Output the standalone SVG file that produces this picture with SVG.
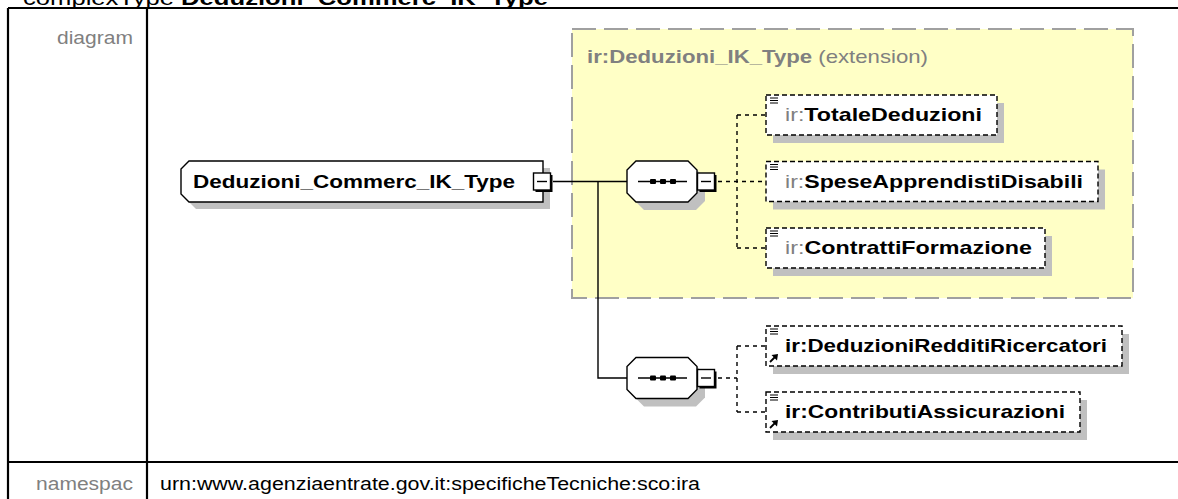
<svg xmlns="http://www.w3.org/2000/svg" xmlns:xlink="http://www.w3.org/1999/xlink" width="1178" height="499" viewBox="0 0 1178 499">
<style>
text{font-family:"Liberation Sans",Arial,sans-serif}
.lab{font-size:17.5px;fill:#808080}
.val{font-size:17.5px;fill:#000}
.el{font-size:19px;font-weight:bold;fill:#000}
.pre{fill:#808080;font-weight:normal}
.ttl{font-size:19px;fill:#808080}
.box{fill:#fff;stroke:#000;stroke-width:1.4;stroke-dasharray:5 3}
.sh{fill:#c0c0c0}
.conn{fill:none;stroke:#000;stroke-width:1.4}
.dconn{fill:none;stroke:#000;stroke-width:1.4;stroke-dasharray:4 4}
.tbl{fill:none;stroke:#000;stroke-width:2.2}
.icon{fill:none;stroke:#000;stroke-width:1.2}
</style>
<defs>
<g id="minus">
<rect x="2.5" y="2.5" width="17" height="17" fill="#000"/>
<rect x="0.5" y="0.5" width="17" height="17" fill="#fff" stroke="#000" stroke-width="1.4"/>
<path d="M4,9 H14" stroke="#000" stroke-width="1.4"/>
</g>
<g id="seq">
<path class="sh" d="M17,8 H69 L78,17 V40 L69,49 H17 L8,40 V17 Z"/>
<path d="M9,0 H61 L70,9 V32 L61,41 H9 L0,32 V9 Z" fill="#fff" stroke="#000" stroke-width="1.4"/>
<path d="M11,20.5 H60" stroke="#000" stroke-width="1.4"/>
<rect x="23" y="18" width="6" height="5" rx="1" fill="#000"/>
<rect x="33" y="18" width="6" height="5" rx="1" fill="#000"/>
<rect x="43" y="18" width="6" height="5" rx="1" fill="#000"/>
<use xlink:href="#minus" x="70" y="11.5"/>
</g>
<g id="lst">
<path class="icon" d="M4,3 H12 M4,5.5 H12 M4,8 H12"/>
</g>
<g id="ref">
<path d="M4,-4 L9,-9" stroke="#000" stroke-width="1.8"/>
<polygon points="12,-12 5.5,-11 11,-5.5" fill="#000"/>
</g>
</defs>

<text x="23" y="5" font-size="21" textLength="525" lengthAdjust="spacingAndGlyphs">complexType <tspan font-weight="bold">Deduzioni_Commerc_IK_Type</tspan></text>

<g id="table">
<path class="tbl" d="M8,8 H1178 M8,8 V499 M147,8 V499 M8,462 H1178"/>
<text class="lab" x="57" y="44" textLength="76" lengthAdjust="spacingAndGlyphs">diagram</text>
<text class="lab" x="36" y="490" textLength="97" lengthAdjust="spacingAndGlyphs">namespac</text>
<text class="val" x="160" y="490" textLength="540" lengthAdjust="spacingAndGlyphs">urn:www.agenziaentrate.gov.it:specificheTecniche:sco:ira</text>
</g>

<g id="extension">
<rect x="572" y="29" width="561" height="269" fill="#ffffc6" stroke="#a0a0a0" stroke-width="2" stroke-dasharray="24 8"/>
<text class="ttl" x="587" y="63" textLength="341" lengthAdjust="spacingAndGlyphs"><tspan font-weight="bold">ir:Deduzioni_IK_Type</tspan> (extension)</text>
</g>

<g id="connectors">
<path class="conn" d="M553,181.5 H627 M598,181.5 V378 H627"/>
<path class="dconn" d="M718,181.5 H766 M737,115 V248 M737,115 H766 M737,248 H766"/>
<path class="dconn" d="M718,378 H737 M737,346 V412 M737,346 H766 M737,412 H766"/>
</g>

<g id="Deduzioni_Commerc_IK_Type">
<path class="sh" d="M196,168 H550 V209 H196 L188,201 V176 Z"/>
<path d="M189,161 H543 V202 H189 L181,194 V169 Z" fill="#fff" stroke="#000" stroke-width="1.4"/>
<text class="el" x="193" y="188" textLength="322" lengthAdjust="spacingAndGlyphs">Deduzioni_Commerc_IK_Type</text>
<use xlink:href="#minus" x="533" y="172.5"/>
</g>

<g id="sequence1">
<use xlink:href="#seq" x="627" y="161"/>
</g>

<g id="sequence2">
<use xlink:href="#seq" x="627" y="357.5"/>
</g>

<g id="TotaleDeduzioni">
<rect class="sh" x="773" y="103" width="231" height="40"/>
<rect class="box" x="766" y="95" width="231" height="40"/>
<use xlink:href="#lst" x="766" y="95"/>
<text class="el" x="785" y="121" textLength="197" lengthAdjust="spacingAndGlyphs"><tspan class="pre">ir:</tspan>TotaleDeduzioni</text>
</g>

<g id="SpeseApprendistiDisabili">
<rect class="sh" x="773" y="169.5" width="332" height="40"/>
<rect class="box" x="766" y="161.5" width="332" height="40"/>
<use xlink:href="#lst" x="766" y="161.5"/>
<text class="el" x="785" y="187.5" textLength="298" lengthAdjust="spacingAndGlyphs"><tspan class="pre">ir:</tspan>SpeseApprendistiDisabili</text>
</g>

<g id="ContrattiFormazione">
<rect class="sh" x="773" y="236" width="279" height="40"/>
<rect class="box" x="766" y="228" width="279" height="40"/>
<use xlink:href="#lst" x="766" y="228"/>
<text class="el" x="785" y="254" textLength="247" lengthAdjust="spacingAndGlyphs"><tspan class="pre">ir:</tspan>ContrattiFormazione</text>
</g>

<g id="DeduzioniRedditiRicercatori">
<rect class="sh" x="773" y="334" width="356" height="40"/>
<rect class="box" x="766" y="326" width="356" height="40"/>
<use xlink:href="#lst" x="766" y="326"/>
<use xlink:href="#ref" x="766" y="366"/>
<text class="el" x="785" y="352" textLength="322" lengthAdjust="spacingAndGlyphs">ir:DeduzioniRedditiRicercatori</text>
</g>

<g id="ContributiAssicurazioni">
<rect class="sh" x="773" y="400" width="314" height="40"/>
<rect class="box" x="766" y="392" width="314" height="40"/>
<use xlink:href="#lst" x="766" y="392"/>
<use xlink:href="#ref" x="766" y="432"/>
<text class="el" x="785" y="418" textLength="280" lengthAdjust="spacingAndGlyphs">ir:ContributiAssicurazioni</text>
</g>
</svg>
